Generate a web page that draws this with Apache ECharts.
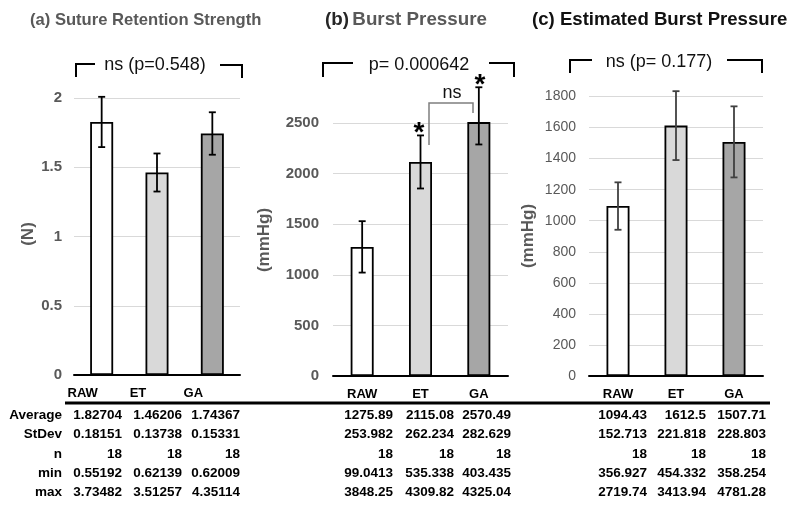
<!DOCTYPE html>
<html><head><meta charset="utf-8">
<script src="https://cdn.jsdelivr.net/npm/echarts@6/dist/echarts.min.js"></script>
<style>html,body{margin:0;padding:0;background:#fff}#c{width:796px;height:506px}</style>
</head><body><div id="c"></div>
<script>
// ---- data ----
const categories = ['RAW', 'ET', 'GA'];
const rowLabels = ['Average', 'StDev', 'n', 'min', 'max'];
// (a) Suture Retention Strength (N)
const sutAvg = [1.82704, 1.46206, 1.74367];
const sutSd  = [0.18151, 0.13738, 0.15331];
const sutN   = [18, 18, 18];
const sutMin = [0.55192, 0.62139, 0.62009];
const sutMax = [3.73482, 3.51257, 4.35114];
// (b) Burst Pressure (mmHg)
const bpAvg = [1275.89, 2115.08, 2570.49];
const bpSd  = [253.982, 262.234, 282.629];
const bpN   = [18, 18, 18];
const bpMin = [99.0413, 535.338, 403.435];
const bpMax = [3848.25, 4309.82, 4325.04];
// (c) Estimated Burst Pressure (mmHg)
const ebpAvg = [1094.43, 1612.5, 1507.71];
const ebpSd  = [152.713, 221.818, 228.803];
const ebpN   = [18, 18, 18];
const ebpMin = [356.927, 454.332, 358.254];
const ebpMax = [2719.74, 3413.94, 4781.28];
// tick settings
const yTicksA = {min: 0, max: 2, interval: 0.5};
const yTicksB = {min: 0, max: 2500, interval: 500};
const yTicksC = {min: 0, max: 1800, interval: 200};

const barColors = ['#ffffff', '#d9d9d9', '#a6a6a6'];
const gray = '#595959';
const FONT = 'Liberation Sans, Arial, sans-serif';

const chart = echarts.init(document.getElementById('c'), null, {renderer: 'canvas'});

function barSeries(idx, avg) {
  return {
    type: 'bar', xAxisIndex: idx, yAxisIndex: idx, barWidth: 23, z: 2,
    data: avg.map((v, i) => ({value: v, itemStyle: {color: barColors[i]}})),
    itemStyle: {borderColor: '#000', borderWidth: 1.8},
    silent: true, animation: false
  };
}
function errSeries(idx, avg, sd, col) {
  return {
    type: 'custom', xAxisIndex: idx, yAxisIndex: idx, z: 5, clip: false,
    data: avg.map((v, i) => [i, v, sd[i]]), animation: false, silent: true,
    renderItem: function (params, api) {
      const x = api.value(0), m = api.value(1), s = api.value(2);
      const hi = api.coord([x, m + s]), lo = api.coord([x, m - s]);
      const st = {stroke: col, lineWidth: 1.8};
      return {type: 'group', children: [
        {type: 'line', shape: {x1: hi[0], y1: hi[1], x2: lo[0], y2: lo[1]}, style: st},
        {type: 'line', shape: {x1: hi[0] - 3.5, y1: hi[1], x2: hi[0] + 3.5, y2: hi[1]}, style: st},
        {type: 'line', shape: {x1: lo[0] - 3.5, y1: lo[1], x2: lo[0] + 3.5, y2: lo[1]}, style: st}
      ]};
    }
  };
}
function xAx(idx, labelCfg) {
  return {
    type: 'category', gridIndex: idx, data: categories,
    axisLine: {lineStyle: {color: '#000', width: 2}},
    axisTick: {show: false},
    axisLabel: Object.assign({color: '#000', fontWeight: 'bold', fontSize: 13, fontFamily: FONT, margin: 12}, labelCfg || {})
  };
}
function yAx(idx, t, lab) {
  return Object.assign({
    type: 'value', gridIndex: idx,
    axisLine: {show: false}, axisTick: {show: false},
    splitLine: {lineStyle: {color: '#d9d9d9', width: 1}},
    axisLabel: Object.assign({color: gray, fontFamily: FONT, formatter: v => String(v)}, lab)
  }, t);
}

// ---- graphic: titles, axis names, brackets, table ----
const G = [];
function txt(x, y, s, o) {
  G.push({type: 'text', x: x, y: y, silent: true, z: 20,
    style: Object.assign({text: s, fontFamily: FONT, fontSize: 13, fill: '#000', align: 'left', verticalAlign: 'middle'}, o || {})});
}
function ln(x1, y1, x2, y2, col, w) {
  G.push({type: 'line', silent: true, z: 20, shape: {x1: x1, y1: y1, x2: x2, y2: y2}, style: {stroke: col, lineWidth: w}});
}
function poly(pts, col, w) {
  G.push({type: 'polyline', silent: true, z: 20, shape: {points: pts}, style: {stroke: col, lineWidth: w, fill: null}});
}
// titles
txt(30, 20, '(a) Suture Retention Strength', {fontSize: 16.6, fontWeight: 'bold', fill: gray});
G.push({type: 'text', x: 325, y: 20, silent: true, z: 20, style: {
  text: '{d|(b)} {g|Burst Pressure}', verticalAlign: 'middle', fontFamily: FONT,
  rich: {d: {fontSize: 18.8, fontWeight: 'bold', fill: '#262626', fontFamily: FONT}, g: {fontSize: 18.8, fontWeight: 'bold', fill: gray, fontFamily: FONT}}
}});
txt(532, 20, '(c) Estimated Burst Pressure', {fontSize: 18.6, fontWeight: 'bold', fill: '#111'});
// axis names
function vname(x, y, s) {
  G.push({type: 'text', x: x, y: y, rotation: Math.PI / 2, silent: true, z: 20,
    style: {text: s, fontFamily: FONT, fontSize: 17, fontWeight: 'bold', fill: gray, align: 'center', verticalAlign: 'middle'}});
}
vname(28, 234, '(N)');
vname(264, 240, '(mmHg)');
vname(528, 236, '(mmHg)');
// brackets
poly([[76, 77], [76, 64], [95, 64]], '#000', 2);
poly([[220, 65], [242, 65], [242, 78]], '#000', 2);
txt(155, 65, 'ns (p=0.548)', {fontSize: 18, align: 'center', fill: '#111'});
poly([[323, 77], [323, 63], [353, 63]], '#000', 2);
poly([[489, 63], [514, 63], [514, 77]], '#000', 2);
txt(419, 65, 'p= 0.000642', {fontSize: 18, align: 'center', fill: '#111'});
poly([[429, 145], [429, 103], [473, 103], [473, 113]], '#7f7f7f', 1.5);
txt(452, 93, 'ns', {fontSize: 18, align: 'center', fill: '#111'});
txt(419, 133, '*', {fontSize: 28, fontWeight: 'bold', align: 'center'});
txt(480, 85, '*', {fontSize: 28, fontWeight: 'bold', align: 'center'});
poly([[570, 73], [570, 60], [592, 60]], '#000', 2);
poly([[727, 60], [762, 60], [762, 73]], '#000', 2);
txt(659, 62, 'ns (p= 0.177)', {fontSize: 18, align: 'center', fill: '#111'});
// table
ln(65, 403, 770, 403, '#000', 3);
const rowY = [415, 434, 454, 473, 492];
rowLabels.forEach((r, i) => txt(62, rowY[i], r, {fontWeight: 'bold', fontSize: 13.5, align: 'right'}));
function table(rows, rights) {
  rows.forEach((arr, ri) => arr.forEach((v, ci) =>
    txt(rights[ci], rowY[ri], String(v), {fontWeight: 'bold', fontSize: 13.5, align: 'right'})));
}
table([sutAvg, sutSd, sutN, sutMin, sutMax], [122, 182, 240]);
table([bpAvg, bpSd, bpN, bpMin, bpMax], [393, 454, 511]);
table([ebpAvg, ebpSd, ebpN, ebpMin, ebpMax], [647, 706, 766]);

chart.setOption({
  animation: false,
  grid: [
    {left: 74, right: 556, top: 98, bottom: 131},
    {left: 333, right: 288, top: 123, bottom: 130},
    {left: 589, right: 33, top: 96.5, bottom: 130}
  ],
  xAxis: [xAx(0, {padding: [0, 38, 0, 0]}), xAx(1), xAx(2)],
  yAxis: [
    yAx(0, yTicksA, {fontSize: 15, fontWeight: 'bold', margin: 12}),
    yAx(1, yTicksB, {fontSize: 15, fontWeight: 'bold', margin: 14}),
    yAx(2, yTicksC, {fontSize: 14, margin: 13})
  ],
  series: [
    barSeries(0, sutAvg), errSeries(0, sutAvg, sutSd, '#000'),
    barSeries(1, bpAvg), errSeries(1, bpAvg, bpSd, '#000'),
    barSeries(2, ebpAvg), errSeries(2, ebpAvg, ebpSd, '#404040')
  ],
  graphic: G
});
</script></body></html>
